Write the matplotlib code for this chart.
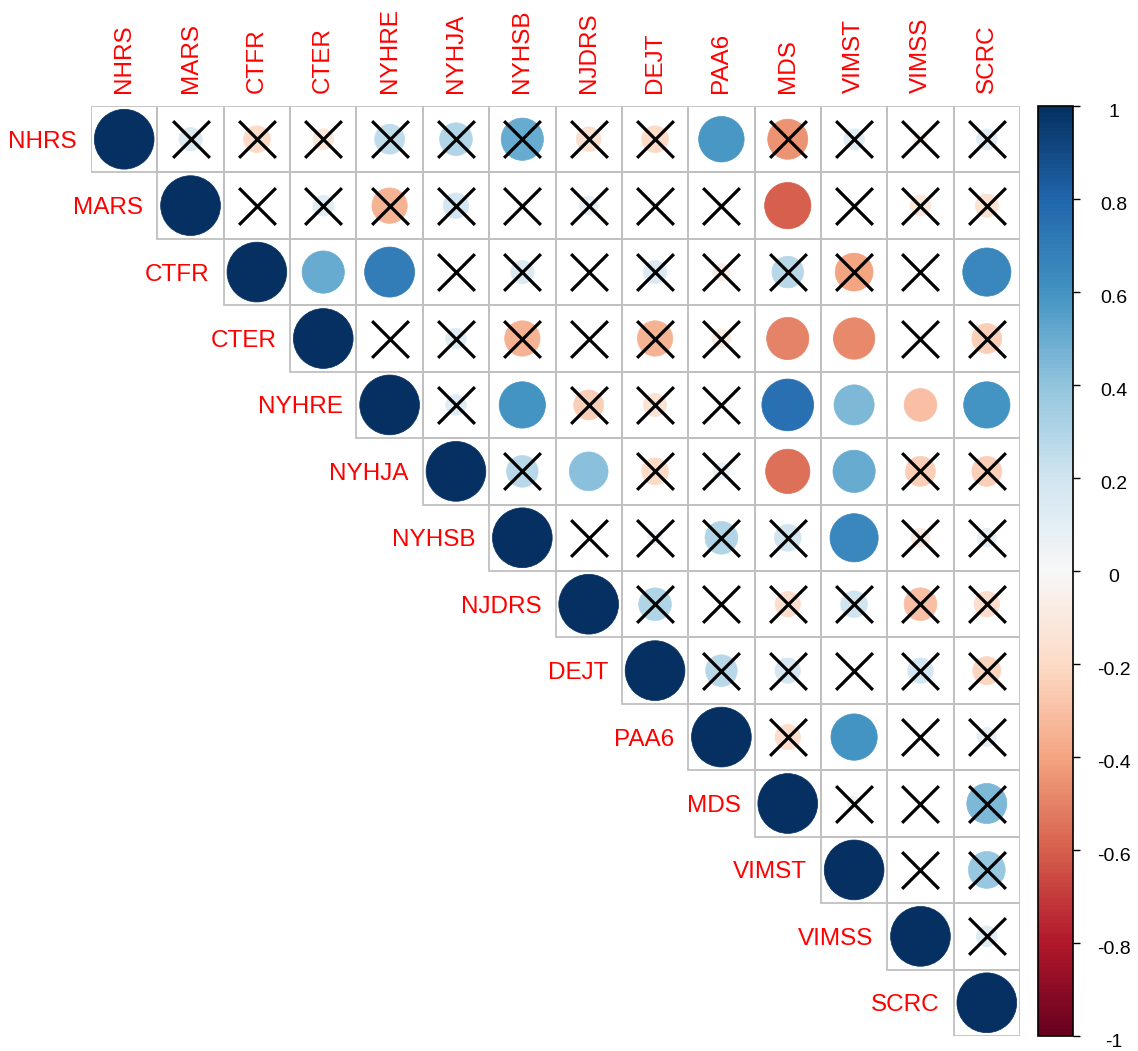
import numpy as np
import matplotlib.pyplot as plt
from matplotlib.patches import Circle, Rectangle
from matplotlib.colors import Normalize
import matplotlib.cm as cm

plt.rcParams['font.family'] = ['Liberation Sans', 'DejaVu Sans']

labels = ["NHRS", "MARS", "CTFR", "CTER", "NYHRE", "NYHJA", "NYHSB",
          "NJDRS", "DEJT", "PAA6", "MDS", "VIMST", "VIMSS", "SCRC"]

# upper triangle, row by row, starting at the diagonal
r_nhrs  = [1, 0.15, -0.2, -0.12, 0.25, 0.3, 0.5, -0.17, -0.2, 0.58, -0.45, 0.12, -0.05, 0.12]
r_mars  = [1, 0.02, 0.12, -0.35, 0.18, -0.03, 0.1, 0.02, -0.02, -0.6, 0.02, -0.12, -0.15]
r_ctfr  = [1, 0.5, 0.7, 0.0, 0.15, 0.0, 0.15, -0.08, 0.28, -0.4, 0.0, 0.65]
r_cter  = [1, 0.0, 0.12, -0.35, 0.0, -0.35, -0.1, -0.5, -0.48, 0.03, -0.25]
r_nyhre = [1, 0.12, 0.6, -0.25, -0.15, -0.02, 0.75, 0.45, -0.3, 0.6]
r_nyhja = [1, 0.28, 0.42, -0.2, 0.08, -0.55, 0.5, -0.25, -0.25]
r_nyhsb = [1, 0.0, 0.06, 0.3, 0.2, 0.65, -0.1, 0.1]
r_njdrs = [1, 0.3, 0.02, -0.18, 0.2, -0.3, -0.18]
r_dejt  = [1, 0.28, 0.18, 0.0, 0.18, -0.22]
r_paa6  = [1, -0.18, 0.6, 0.0, 0.1]
r_mds   = [1, 0.05, 0.0, 0.45]
r_vimst = [1, 0.0, 0.38]
r_vimss = [1, 0.12]
r_scrc  = [1]

# 1 = not significant (crossed)
x_nhrs  = [0, 1, 1, 1, 1, 1, 1, 1, 1, 0, 1, 1, 1, 1]
x_mars  = [0, 1, 1, 1, 1, 1, 1, 1, 1, 0, 1, 1, 1]
x_ctfr  = [0, 0, 0, 1, 1, 1, 1, 1, 1, 1, 1, 0]
x_cter  = [0, 1, 1, 1, 1, 1, 1, 0, 0, 1, 1]
x_nyhre = [0, 1, 0, 1, 1, 1, 0, 0, 0, 0]
x_nyhja = [0, 1, 0, 1, 1, 0, 0, 1, 1]
x_nyhsb = [0, 1, 1, 1, 1, 0, 1, 1]
x_njdrs = [0, 1, 1, 1, 1, 1, 1]
x_dejt  = [0, 1, 1, 1, 1, 1]
x_paa6  = [0, 1, 0, 1, 1]
x_mds   = [0, 1, 1, 1]
x_vimst = [0, 1, 1]
x_vimss = [0, 1]
x_scrc  = [0]

rows = [r_nhrs, r_mars, r_ctfr, r_cter, r_nyhre, r_nyhja, r_nyhsb,
        r_njdrs, r_dejt, r_paa6, r_mds, r_vimst, r_vimss, r_scrc]
crosses = [x_nhrs, x_mars, x_ctfr, x_cter, x_nyhre, x_nyhja, x_nyhsb,
           x_njdrs, x_dejt, x_paa6, x_mds, x_vimst, x_vimss, x_scrc]

n = len(labels)
cmap = plt.cm.RdBu
norm = Normalize(-1, 1)

W, H = 1138, 1051
fig = plt.figure(figsize=(W / 100, H / 100), dpi=100)
ax = fig.add_axes([91 / W, 1 - 1036 / H, 929 / W, 930 / H])
ax.set_xlim(0, n)
ax.set_ylim(n, 0)
ax.axis('off')

for i in range(n):
    for k, val in enumerate(rows[i]):
        j = i + k
        ax.add_patch(Rectangle((j, i), 1, 1, fill=False, edgecolor='#c0c0c0',
                               linewidth=1.3, zorder=1))
        col = cmap(norm(val))
        ax.add_patch(Circle((j + 0.5, i + 0.5), 0.45 * np.sqrt(abs(val)),
                            facecolor=col, edgecolor=col, linewidth=0.5, zorder=2))
        if crosses[i][k]:
            ax.scatter([j + 0.5], [i + 0.5], marker='x', s=700, color='black',
                       linewidths=2.3, zorder=3)

for j, name in enumerate(labels):
    ax.text(j + 0.5, -0.2, name, rotation=90, ha='center', va='bottom',
            color='red', fontsize=17.5, clip_on=False)
for i, name in enumerate(labels):
    ax.text(i - 0.21, i + 0.5, name, ha='right', va='center_baseline',
            color='red', fontsize=17.5, clip_on=False)

cax = fig.add_axes([1038 / W, 1 - 1036 / H, 35 / W, 930 / H])
sm = cm.ScalarMappable(norm=norm, cmap=cmap)
cb = fig.colorbar(sm, cax=cax)
cb.outline.set_linewidth(1.2)
cb.outline.set_edgecolor('black')
ticks = np.round(np.arange(-1, 1.01, 0.2), 1)
cb.set_ticks(ticks)
cax.tick_params(length=5, width=1, labelright=False)
for t in ticks:
    txt = '0' if t == 0 else ('%g' % t)
    cax.text(2.17, t - 0.013, txt, transform=cax.get_yaxis_transform(), ha='center',
             va='center', fontsize=14, clip_on=False)

fig.savefig('out.png', dpi=100)
